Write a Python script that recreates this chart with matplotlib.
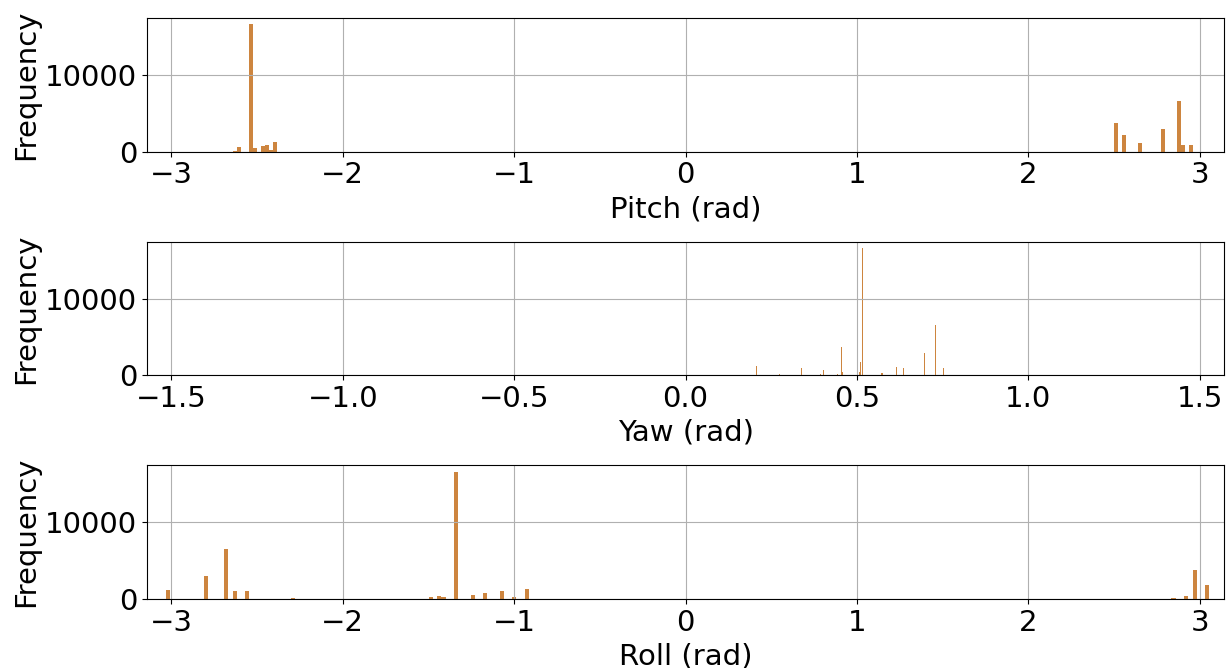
import numpy as np
import matplotlib
matplotlib.use("Agg")
import matplotlib.pyplot as plt

# histogram bins: bin centres (rad) and counts
pitch_centres = [-2.628, -2.605, -2.535, -2.512, -2.465, -2.442, -2.418, -2.395,
                 2.512, 2.558, 2.652, 2.786, 2.880, 2.903, 2.950]
pitch_counts = [130, 560, 16640, 430, 690, 950, 170, 1220,
                3700, 2130, 1090, 2920, 6580, 950, 950]

yaw_centres = [0.207, 0.275, 0.339, 0.395, 0.401, 0.444, 0.456, 0.459, 0.508,
               0.511, 0.517, 0.573, 0.616, 0.637, 0.698, 0.730, 0.751]
yaw_counts = [1240, 200, 980, 200, 720, 200, 3730, 450, 450,
              1760, 16670, 330, 1110, 980, 2940, 6600, 980]

roll_centres = [-3.019, -2.798, -2.681, -2.628, -2.558, -2.290, -1.485, -1.438,
                -1.412, -1.339, -1.240, -1.170, -1.071, -1.001, -0.925,
                2.847, 2.920, 2.973, 3.043]
roll_counts = [1130, 2960, 6480, 1000, 1000, 100, 200, 350,
               200, 16520, 480, 740, 1000, 200, 1260,
               130, 390, 3740, 1790]

panels = [
    ("Pitch (rad)", pitch_centres, pitch_counts, 0.0234, np.pi),
    ("Yaw (rad)", yaw_centres, yaw_counts, 0.003, np.pi / 2),
    ("Roll (rad)", roll_centres, roll_counts, 0.026, np.pi),
]

plt.rcParams['font.size'] = 21

fig, axes = plt.subplots(3, 1, figsize=(12.26, 6.68), dpi=100)
fig.subplots_adjust(left=0.12, right=0.9984, top=0.973, bottom=0.1033, hspace=0.672)

for ax, (label, centres, counts, width, lim) in zip(axes, panels):
    ax.bar(centres, counts, width=width, color="peru", linewidth=0)
    ax.set_xlim(-lim, lim)
    ax.set_ylim(0, max(counts) * 1.05)
    ax.set_yticks([0, 10000])
    ax.grid(True)
    ax.set_xlabel(label)
    ax.set_ylabel("Frequency")

fig.savefig("out.png")
